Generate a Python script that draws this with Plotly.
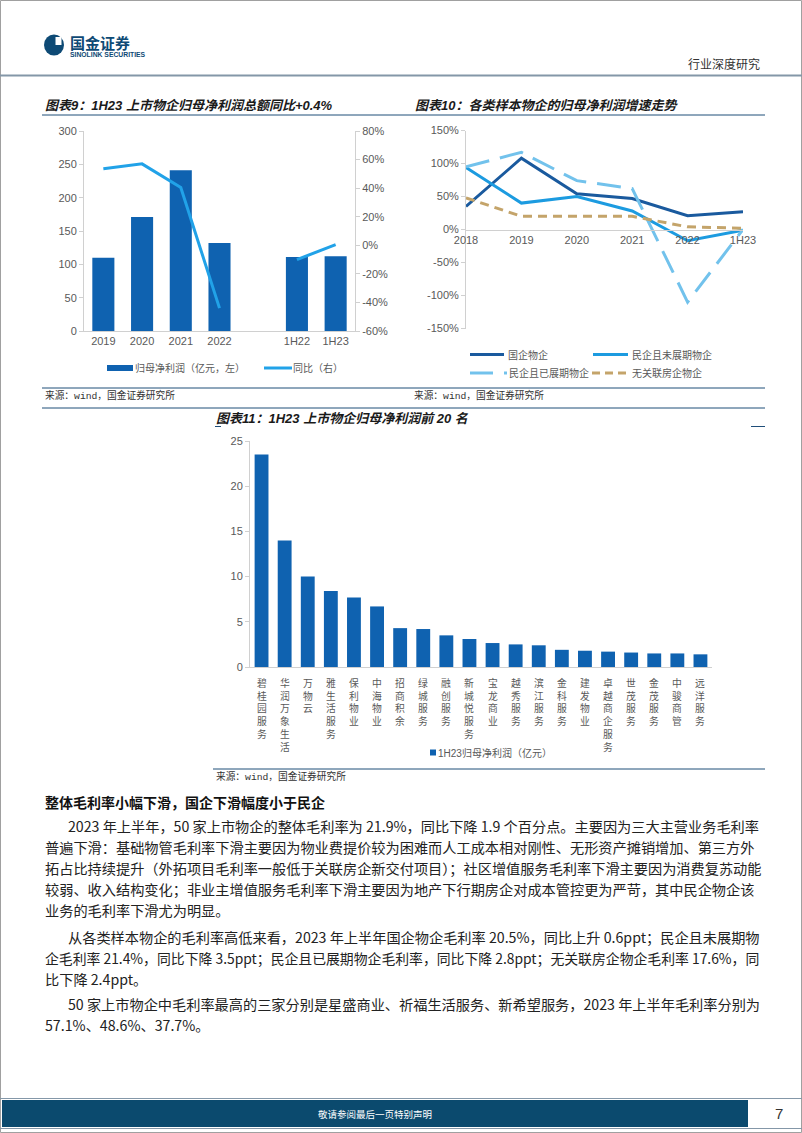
import plotly.graph_objects as go

W, H = 802, 1133


def X(px):
    return px / W


def Y(py):
    return 1 - py / H


FONT = "Liberation Sans, Noto Sans CJK SC"
CJK = "Noto Sans CJK SC"
GRAY = "#595959"
AXC = "#D0D0D0"
BAR = "#0F62B0"
NAVY = "#1F4E79"

# ---------------- data ----------------
# 图表9
c9_cats = ["2019", "2020", "2021", "2022", " ", "1H22", "1H23"]
c9_profit = [110, 171, 241, 132, None, 111, 112]
c9_yoy = [53.5, 57, 40.5, -44, None, -10, 0.4]
c9_left_ticks = [0, 50, 100, 150, 200, 250, 300]
c9_right_ticks = [-60, -40, -20, 0, 20, 40, 60, 80]

# 图表10
c10_cats = ["2018", "2019", "2020", "2021", "2022", "1H23"]
c10_soe = [35, 108, 54, 47, 21, 27]
c10_priv_noext = [94, 40, 50, 28, -17, -1]
c10_priv_ext = [95, 117, 74, 62, -110, 0]
c10_indep = [48, 20, 20, 20, 4, 2]
c10_ticks = [-150, -100, -50, 0, 50, 100, 150]

# 图表11
c11_names = ["碧桂园服务", "华润万象生活", "万物云", "雅生活服务", "保利物业", "中海物业",
             "招商积余", "绿城服务", "融创服务", "新城悦服务", "宝龙商业", "越秀服务",
             "滨江服务", "金科服务", "建发物业", "卓越商企服务", "世茂服务", "金茂服务",
             "中骏商管", "远洋服务"]
c11_values = [23.5, 14.0, 10.0, 8.4, 7.7, 6.7, 4.3, 4.2, 3.5, 3.1, 2.65, 2.5, 2.4,
              1.9, 1.8, 1.7, 1.6, 1.5, 1.5, 1.4]
c11_ticks = [0, 5, 10, 15, 20, 25]

fig = go.Figure()

# ---------------- chart 9 ----------------
fig.add_trace(go.Bar(x=c9_cats, y=c9_profit, width=0.57, marker=dict(color=BAR, line=dict(width=0)),
                     xaxis="x", yaxis="y", name="归母净利润（亿元，左）"))
fig.add_trace(go.Scatter(x=c9_cats, y=c9_yoy, mode="lines", line=dict(color="#21A2E8", width=3),
                         connectgaps=False, xaxis="x", yaxis="y2", name="同比（右）"))

# ---------------- chart 10 ----------------
series10 = [
    (c10_soe, "国企物企", dict(color="#1A5A9E", width=3)),
    (c10_priv_noext, "民企且未展期物企", dict(color="#1C9BE0", width=3)),
    (c10_priv_ext, "民企且已展期物企", dict(color="#72C2EC", width=3, dash="24px,11px")),
    (c10_indep, "无关联房企物企", dict(color="#C4A46A", width=3, dash="9px,6px")),
]
for vals, nm, ln in series10:
    fig.add_trace(go.Scatter(x=c10_cats, y=vals, mode="lines", line=ln, name=nm,
                             xaxis="x3", yaxis="y3"))

# ---------------- chart 11 ----------------
fig.add_trace(go.Bar(x=c11_names, y=c11_values, width=0.6, marker=dict(color=BAR, line=dict(width=0)),
                     xaxis="x4", yaxis="y4", name="1H23归母净利润（亿元）"))

tickfont = dict(size=11, color=GRAY, family=FONT)
common_y = dict(showline=True, linecolor=AXC, ticks="outside", ticklen=4, tickcolor=AXC,
                tickfont=tickfont, showgrid=False, zeroline=False, automargin=False, fixedrange=True)

fig.update_layout(
    width=W, height=H, margin=dict(l=0, r=0, t=0, b=0, pad=0, autoexpand=False),
    paper_bgcolor="white", plot_bgcolor="rgba(0,0,0,0)", showlegend=False,
    xaxis=dict(domain=[X(84), X(355)], anchor="y", type="category", showline=True, linecolor=AXC,
               ticks="", tickfont=tickfont, showgrid=False, automargin=False, fixedrange=True),
    yaxis=dict(domain=[Y(331), Y(131)], anchor="x", range=[0, 300], tickvals=c9_left_ticks, **common_y),
    yaxis2=dict(overlaying="y", side="right", anchor="x", range=[-60, 80], tickvals=c9_right_ticks,
                ticktext=[f"{v}%" for v in c9_right_ticks], **common_y),
    xaxis3=dict(domain=[X(466), X(743)], anchor="free", position=Y(229.5), type="category",
                showline=True, linecolor=AXC, ticks="", tickfont=tickfont, showgrid=False,
                automargin=False, fixedrange=True),
    yaxis3=dict(domain=[Y(328.5), Y(130.5)], anchor="x3", range=[-150, 150], tickvals=c10_ticks,
                ticktext=[f"{v}%" for v in c10_ticks], **common_y),
    xaxis4=dict(domain=[X(250), X(712)], anchor="y4", type="category", showline=True, linecolor=AXC,
                ticks="", showticklabels=False, showgrid=False, automargin=False, fixedrange=True),
    yaxis4=dict(domain=[Y(667), Y(441)], anchor="x4", range=[0, 25], tickvals=c11_ticks, **common_y),
)

shapes = []
annots = []


def hline(x0, x1, y, color, width=1):
    shapes.append(dict(type="line", xref="paper", yref="paper", x0=X(x0), x1=X(x1), y0=Y(y), y1=Y(y),
                       line=dict(color=color, width=width)))


def rect(x0, y0, x1, y1, fill):
    shapes.append(dict(type="rect", xref="paper", yref="paper", x0=X(x0), x1=X(x1), y0=Y(y1), y1=Y(y0),
                       fillcolor=fill, line=dict(color=fill, width=0), layer="above"))


def txt(x, y, s, size=11, color=GRAY, anchor="left", family=FONT, yanchor="middle"):
    annots.append(dict(x=X(x), y=Y(y), xref="paper", yref="paper", text=s,
                       showarrow=False, xanchor=anchor, yanchor=yanchor, borderpad=0, borderwidth=0,
                       font=dict(size=size, color=color, family=family)))


# page border
shapes.append(dict(type="rect", xref="paper", yref="paper", x0=X(0.5), x1=X(801.5), y0=Y(1132.5), y1=Y(0.5),
                   line=dict(color="#A0A0A0", width=1), fillcolor="rgba(0,0,0,0)"))

# header
shapes.append(dict(type="circle", xref="paper", yref="paper", x0=X(44), x1=X(64), y0=Y(55.5), y1=Y(34.5),
                   fillcolor="#0E4A75", line=dict(width=0)))
rect(55.5, 37, 61.5, 45, "white")
txt(70, 43, "<b>国金证券</b>", size=15, color="#0E4A75", family=CJK)
txt(70, 54.5, "<b>SINOLINK SECURITIES</b>", size=6.8, color="#0E4A75", family="Liberation Sans")
txt(760, 64, "行业深度研究", size=12, color="#333333", anchor="right", family=CJK)
hline(0, 802, 75.5, "#8497A8", width=2)

# chart titles and rules
txt(45, 105.5, "<b><i>图表9：1H23 上市物企归母净利润总额同比+0.4%</i></b>", size=13, color="#1a1a1a")
txt(415, 105.5, "<b><i>图表10：各类样本物企的归母净利润增速走势</i></b>", size=13, color="#1a1a1a")
hline(42, 765, 115, NAVY)

# chart 9 legend
LG = 10
rect(107, 365, 133, 371, BAR)
txt(135, 368, "归母净利润（亿元，左）", size=LG)
hline(264, 292, 368, "#21A2E8", width=3)
txt(293, 368, "同比（右）", size=LG)

# chart 10 legend
hline(470, 504, 354.5, "#1A5A9E", width=3)
txt(508, 354.5, "国企物企", size=LG)
hline(593, 628, 354.5, "#1C9BE0", width=3)
txt(632, 354.5, "民企且未展期物企", size=LG)
hline(470, 493, 373, "#72C2EC", width=3)
hline(504, 507, 373, "#72C2EC", width=3)
txt(509, 373, "民企且已展期物企", size=LG)
for a in (592, 605, 618):
    hline(a, a + 8, 373, "#C4A46A", width=3)
txt(632, 373, "无关联房企物企", size=LG)

# sources
SRC = "Liberation Mono, Noto Sans CJK SC"
hline(42, 765, 388, NAVY)
txt(45, 395.5, "来源：wind，国金证券研究所", size=9.7, color="#333333", family=SRC)
txt(414, 395.5, "来源：wind，国金证券研究所", size=9.7, color="#333333", family=SRC)
hline(42, 765, 408, NAVY)

# chart 11 title
txt(216, 418, "<b><i>图表11：1H23 上市物企归母净利润前 20 名</i></b>", size=13, color="#1a1a1a")
hline(215, 221, 426.5, NAVY)
hline(751, 765, 426.5, NAVY)

# chart 11 vertical category labels (stacked characters)
for name in c11_names:
    annots.append(dict(x=name, xref="x4", y=Y(676), yref="paper", text="<br>".join(name),
                       showarrow=False, xanchor="center", yanchor="top", align="center",
                       borderpad=0, borderwidth=0, font=dict(size=9.8, color=GRAY, family=CJK)))

# chart 11 legend & source
rect(430, 749.5, 436, 755.5, BAR)
txt(437.5, 752.5, "1H23归母净利润（亿元）", size=LG)
hline(213, 765, 769, NAVY)
txt(216, 776, "来源：wind，国金证券研究所", size=9.7, color="#333333", family=SRC)

# body text
BODY = "#222222"
BFONT = "Liberation Sans Narrow, Noto Sans CJK SC"
txt(45, 801.5, "<b>整体毛利率小幅下滑，国企下滑幅度小于民企</b>", size=14, color="#111111", family=CJK)
para1 = [
    (68, "2023 年上半年，50 家上市物企的整体毛利率为 21.9%，同比下降 1.9 个百分点。主要因为三大主营业务毛利率", 14.2),
    (45, "普遍下滑：基础物管毛利率下滑主要因为物业费提价较为困难而人工成本相对刚性、无形资产摊销增加、第三方外", 14.2),
    (45, "拓占比持续提升（外拓项目毛利率一般低于关联房企新交付项目）；社区增值服务毛利率下滑主要因为消费复苏动能", 14.2),
    (45, "较弱、收入结构变化；非业主增值服务毛利率下滑主要因为地产下行期房企对成本管控更为严苛，其中民企物企该", 14.2),
    (45, "业务的毛利率下滑尤为明显。", 14.2),
]
para2 = [
    (68, "从各类样本物企的毛利率高低来看，2023 年上半年国企物企毛利率 20.5%，同比上升 0.6ppt；民企且未展期物", 14.2),
    (45, "企毛利率 21.4%，同比下降 3.5ppt；民企且已展期物企毛利率，同比下降 2.8ppt；无关联房企物企毛利率 17.6%，同", 13.85),
    (45, "比下降 2.4ppt。", 14.2),
]
para3 = [
    (68, "50 家上市物企中毛利率最高的三家分别是星盛商业、祈福生活服务、新希望服务，2023 年上半年毛利率分别为", 14.2),
    (45, "57.1%、48.6%、37.7%。", 14.2),
]
ys1 = [826, 847, 868, 889, 910]
ys2 = [937, 958, 979]
ys3 = [1004, 1025]
for (xx, s, sz), yy in zip(para1 + para2 + para3, ys1 + ys2 + ys3):
    txt(xx, yy, s, size=sz, color=BODY, family=BFONT)

# footer
hline(0, 802, 1098.5, "#8497A8", width=1)
rect(2, 1100, 748, 1127, "#0B4A6E")
txt(375, 1113.5, "敬请参阅最后一页特别声明", size=9.5, color="white", anchor="center", family=CJK)
txt(779, 1113.5, "7", size=15, color="#333333", anchor="center", family="Liberation Sans")
hline(0, 802, 1128.5, "#8497A8", width=1)

fig.update_layout(shapes=shapes, annotations=annots)
fig.write_html("out.html",
               config={"displayModeBar": False},
               post_script="document.body.style.margin='0px';document.body.style.padding='0px';"
                           "document.body.style.overflow='hidden';")
